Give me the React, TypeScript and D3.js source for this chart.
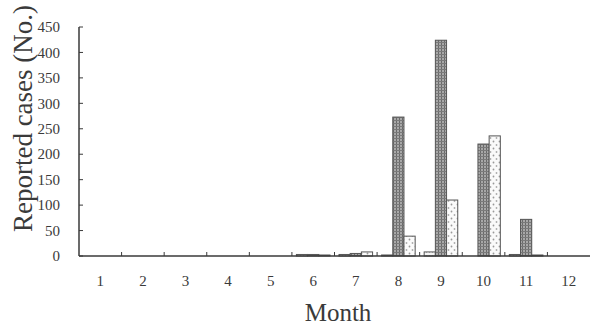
import React, { useRef, useEffect } from "react"
import * as d3 from "d3"

// months on the x axis
const months = ["1", "2", "3", "4", "5", "6", "7", "8", "9", "10", "11", "12"]
const seriesKeys = ["a", "b", "c"]
const seriesA = [0, 0, 0, 0, 0, 3, 3, 2, 8, 0, 3, 0]
const seriesB = [0, 0, 0, 0, 0, 3, 5, 273, 424, 220, 72, 0]
const seriesC = [0, 0, 0, 0, 0, 2, 8, 39, 110, 236, 2, 0]
const yTicks = [0, 50, 100, 150, 200, 250, 300, 350, 400, 450]

const W = 590,
  H = 329
const margin = { top: 27, right: 0, bottom: 73, left: 79 }

function App() {
  const ref = useRef<SVGSVGElement>(null)

  useEffect(() => {
    const svg = d3.select(ref.current)
    svg.selectAll("*").remove()

    const font = "'Liberation Serif', 'Times New Roman', serif"
    const ink = "#3a3a3a"

    const defs = svg.append("defs")
    // series A: white with faint hatch
    const pa = defs
      .append("pattern")
      .attr("id", "pa")
      .attr("width", 3)
      .attr("height", 3)
      .attr("patternUnits", "userSpaceOnUse")
    pa.append("rect").attr("width", 3).attr("height", 3).attr("fill", "#f4f4f4")
    pa.append("rect").attr("width", 1).attr("height", 1).attr("fill", "#bbb")
    // series B: gray with dark grid
    const pb = defs
      .append("pattern")
      .attr("id", "pb")
      .attr("width", 3)
      .attr("height", 3)
      .attr("patternUnits", "userSpaceOnUse")
    pb.append("rect").attr("width", 3).attr("height", 3).attr("fill", "#a8a8a8")
    pb.append("rect").attr("width", 1).attr("height", 3).attr("fill", "#6a6a6a")
    pb.append("rect").attr("width", 3).attr("height", 1).attr("fill", "#7a7a7a")
    // series C: white with sparse dots
    const pc = defs
      .append("pattern")
      .attr("id", "pc")
      .attr("width", 6)
      .attr("height", 7)
      .attr("patternUnits", "userSpaceOnUse")
    pc.append("rect").attr("width", 6).attr("height", 7).attr("fill", "#fafafa")
    pc.append("circle").attr("cx", 1.5).attr("cy", 1.5).attr("r", 0.9).attr("fill", "#999")
    pc.append("circle").attr("cx", 4.5).attr("cy", 5).attr("r", 0.9).attr("fill", "#aaa")

    const fills: Record<string, string> = { a: "url(#pa)", b: "url(#pb)", c: "url(#pc)" }
    const values: Record<string, number[]> = { a: seriesA, b: seriesB, c: seriesC }

    const x0 = d3
      .scaleBand()
      .domain(months)
      .range([margin.left, W - margin.right])
    const x1 = d3
      .scaleBand()
      .domain(seriesKeys)
      .range([4.5, x0.bandwidth() - 4.5])
    const y = d3
      .scaleLinear()
      .domain([0, 450])
      .range([H - margin.bottom, margin.top])

    const g = svg.append("g")

    // bars
    months.forEach((m, i) => {
      g.append("g")
        .selectAll("rect")
        .data(seriesKeys)
        .join("rect")
        .attr("x", k => x0(m)! + x1(k)!)
        .attr("y", k => y(values[k][i]))
        .attr("width", x1.bandwidth())
        .attr("height", k => y(0) - y(values[k][i]))
        .attr("fill", k => fills[k])
        .attr("stroke", k => (values[k][i] > 0 ? "#555" : "none"))
        .attr("stroke-width", 1)
    })

    // x axis
    const xAxis = g
      .append("g")
      .attr("transform", `translate(0, ${y(0)})`)
    xAxis
      .append("line")
      .attr("x1", margin.left)
      .attr("x2", W)
      .attr("stroke", ink)
      .attr("stroke-width", 1.5)
    xAxis
      .selectAll("line.tk")
      .data(months.slice(1))
      .join("line")
      .attr("class", "tk")
      .attr("x1", d => x0(d)!)
      .attr("x2", d => x0(d)!)
      .attr("y1", 0)
      .attr("y2", -4)
      .attr("stroke", ink)
    xAxis
      .selectAll("text")
      .data(months)
      .join("text")
      .attr("x", d => x0(d)! + x0.bandwidth() / 2)
      .attr("y", 30)
      .attr("text-anchor", "middle")
      .style("font-family", font)
      .style("font-size", "15px")
      .attr("fill", ink)
      .text(d => d)

    // y axis
    const yAxis = g
      .append("g")
      .attr("transform", `translate(${margin.left}, 0)`)
    yAxis
      .append("line")
      .attr("y1", y(0))
      .attr("y2", y(450))
      .attr("stroke", ink)
      .attr("stroke-width", 1.5)
    yAxis
      .selectAll("line.tk")
      .data(yTicks)
      .join("line")
      .attr("class", "tk")
      .attr("x1", 0)
      .attr("x2", 4)
      .attr("y1", d => y(d))
      .attr("y2", d => y(d))
      .attr("stroke", ink)
    yAxis
      .selectAll("text")
      .data(yTicks)
      .join("text")
      .attr("x", -19)
      .attr("y", d => y(d))
      .attr("dy", "0.35em")
      .attr("text-anchor", "end")
      .style("font-family", font)
      .style("font-size", "15px")
      .attr("fill", ink)
      .text(d => d)

    // titles
    svg
      .append("text")
      .attr("transform", `translate(32, ${(y(0) + y(450)) / 2 - 23}) rotate(-90)`)
      .attr("text-anchor", "middle")
      .style("font-family", font)
      .style("font-size", "27px")
      .attr("fill", ink)
      .text("Reported cases (No.)")
    svg
      .append("text")
      .attr("x", 338)
      .attr("y", 321)
      .attr("text-anchor", "middle")
      .style("font-family", font)
      .style("font-size", "25px")
      .attr("fill", ink)
      .text("Month")
  }, [])

  return (
    <svg
      ref={ref}
      width={W}
      height={H}
      style={{ position: "absolute", left: 0, top: 0, background: "#fff" }}
    ></svg>
  )
}

export default App
